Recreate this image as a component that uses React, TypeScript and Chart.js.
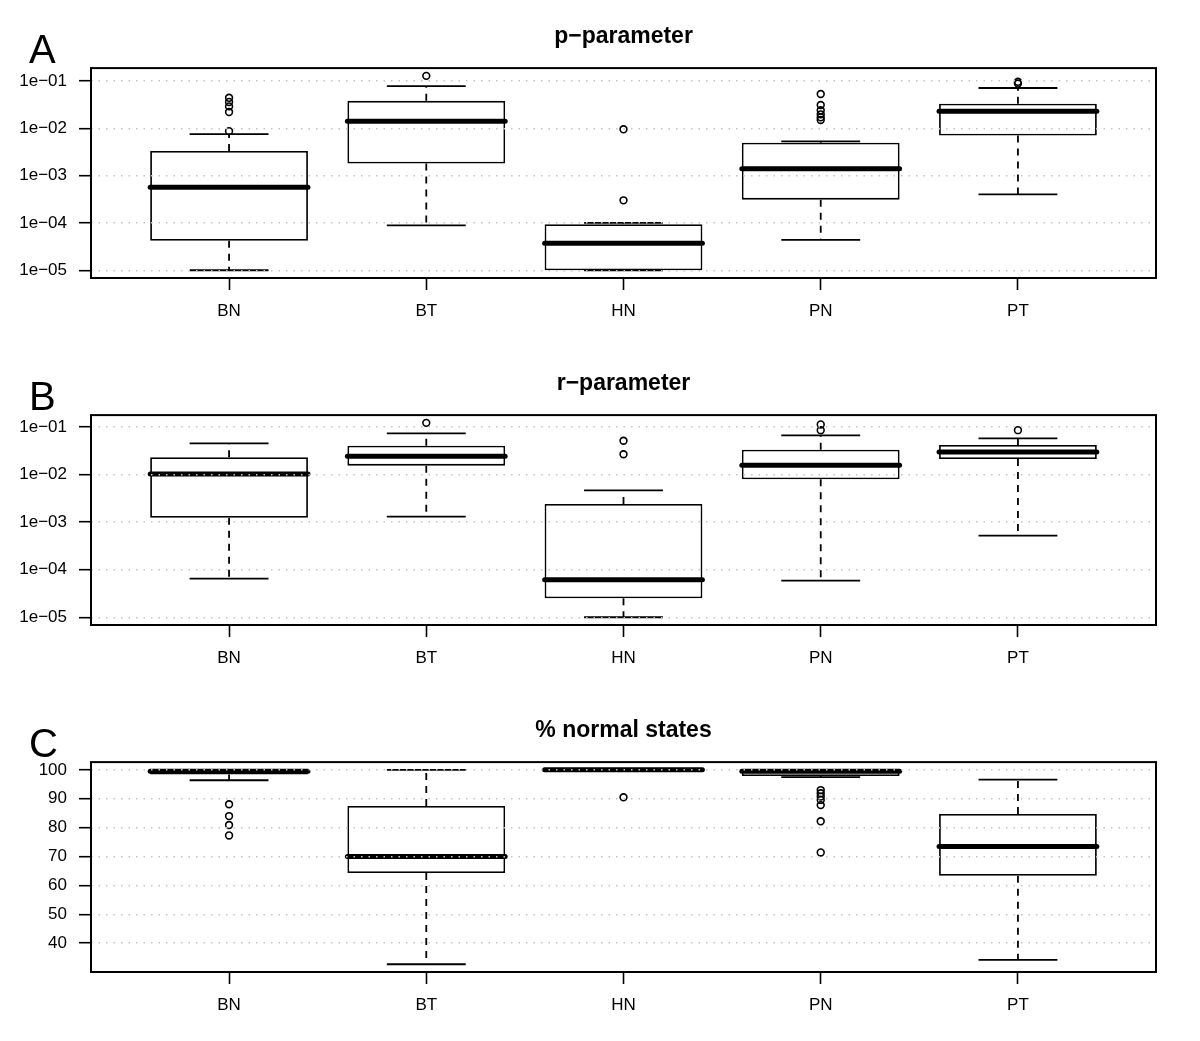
import React, { useEffect, useRef } from 'react';
import { Chart, registerables } from 'chart.js';

Chart.register(...registerables);

// ---------- data ----------
const CATEGORIES = ['BN', 'BT', 'HN', 'PN', 'PT'];

// Panel A: p-parameter (log scale)
const P_LOWER = [1.0e-5, 8.9e-5, 1.0e-5, 4.4e-5, 4.0e-4];
const P_Q1 = [4.2e-5, 1.8e-3, 1.0e-5, 3.1e-4, 7.0e-3];
const P_MEDIAN = [5.7e-4, 1.4e-2, 3.7e-5, 1.4e-3, 2.28e-2];
const P_Q3 = [3.3e-3, 3.8e-2, 9.4e-5, 4.96e-3, 3.3e-2];
const P_UPPER = [7.55e-3, 7.8e-2, 1.0e-4, 5.3e-3, 7.1e-2];
const P_OUTLIERS = [
  [8.7e-3, 2.2e-2, 2.9e-2, 3.6e-2, 4.4e-2],
  [0.128],
  [3.0e-4, 9.5e-3],
  [1.5e-2, 1.7e-2, 1.97e-2, 2.4e-2, 3.1e-2, 5.3e-2],
  [8.8e-2, 9.6e-2],
];

// Panel B: r-parameter (log scale)
const R_LOWER = [6.5e-5, 1.3e-3, 1.0e-5, 5.9e-5, 5.2e-4];
const R_Q1 = [1.23e-3, 1.53e-2, 2.5e-5, 7.9e-3, 2.1e-2];
const R_MEDIAN = [1.02e-2, 2.4e-2, 6.1e-5, 1.56e-2, 2.96e-2];
const R_Q3 = [2.3e-2, 4.0e-2, 2.4e-3, 3.3e-2, 4.17e-2];
const R_UPPER = [4.5e-2, 7.3e-2, 4.6e-3, 6.6e-2, 5.7e-2];
const R_OUTLIERS = [[], [0.121], [2.65e-2, 5.1e-2], [8.5e-2, 0.112], [8.5e-2]];

// Panel C: % normal states (linear scale)
const N_LOWER = [96.4, 32.7, 100, 97.5, 34.2];
const N_Q1 = [98.4, 64.3, 100, 97.9, 63.3];
const N_MEDIAN = [99.5, 70.0, 100, 99.5, 73.5];
const N_Q3 = [100, 87.5, 100, 99.9, 84.7];
const N_UPPER = [100, 100, 100, 100, 96.6];
const N_OUTLIERS = [
  [77.3, 80.9, 84.0, 88.1],
  [],
  [90.5],
  [71.4, 82.2, 87.8, 89.6, 90.75, 91.9, 93.0],
  [],
];

// tick values / labels
const LOG_TICK_VALUES = [1e-5, 1e-4, 1e-3, 1e-2, 1e-1];
const LOG_TICK_LABELS = ['1e\u221205', '1e\u221204', '1e\u221203', '1e\u221202', '1e\u221201'];
const PCT_TICK_VALUES = [40, 50, 60, 70, 80, 90, 100];
const PCT_TICK_LABELS = ['40', '50', '60', '70', '80', '90', '100'];

const TITLES = ['p\u2212parameter', 'r\u2212parameter', '% normal states'];
const LETTERS = ['A', 'B', 'C'];

// ---------- drawing ----------
const FONT = '"Liberation Sans", Arial, Helvetica, sans-serif';
const W = 1200;
const H = 347;

type Stats = {
  lower: number[];
  q1: number[];
  median: number[];
  q3: number[];
  upper: number[];
  outliers: number[][];
};

function makePlugin(stats: Stats, letter: string) {
  return {
    id: 'boxExtras' + letter,
    afterDatasetsDraw(chart: any) {
      const { ctx } = chart;
      const xs = chart.scales.x;
      const ys = chart.scales.y;
      ctx.save();
      ctx.strokeStyle = '#000';
      CATEGORIES.forEach((_, i) => {
        const c = i + 1;
        const xc = xs.getPixelForValue(c);
        const yl = ys.getPixelForValue(stats.lower[i]);
        const yq1 = ys.getPixelForValue(stats.q1[i]);
        const yq3 = ys.getPixelForValue(stats.q3[i]);
        const yu = ys.getPixelForValue(stats.upper[i]);
        const ym = ys.getPixelForValue(stats.median[i]);
        // dashed whiskers
        ctx.lineWidth = 1.8;
        ctx.setLineDash([7, 6]);
        ctx.lineCap = 'butt';
        ctx.beginPath();
        ctx.moveTo(xc, yq3);
        ctx.lineTo(xc, yu);
        ctx.moveTo(xc, yq1);
        ctx.lineTo(xc, yl);
        ctx.stroke();
        // caps
        ctx.setLineDash([]);
        const xc0 = xs.getPixelForValue(c - 0.2);
        const xc1 = xs.getPixelForValue(c + 0.2);
        ctx.beginPath();
        ctx.moveTo(xc0, yu);
        ctx.lineTo(xc1, yu);
        ctx.moveTo(xc0, yl);
        ctx.lineTo(xc1, yl);
        ctx.stroke();
        // median
        const xm0 = xs.getPixelForValue(c - 0.4);
        const xm1 = xs.getPixelForValue(c + 0.4);
        ctx.lineWidth = 5;
        ctx.lineCap = 'round';
        ctx.beginPath();
        ctx.moveTo(xm0, ym);
        ctx.lineTo(xm1, ym);
        ctx.stroke();
      });
      ctx.restore();
    },
    afterDraw(chart: any) {
      const { ctx, chartArea } = chart;
      ctx.save();
      ctx.strokeStyle = '#000';
      ctx.lineWidth = 2;
      ctx.setLineDash([]);
      ctx.strokeRect(chartArea.left, chartArea.top, chartArea.right - chartArea.left, chartArea.bottom - chartArea.top);
      ctx.fillStyle = '#000';
      ctx.font = '40px ' + FONT;
      ctx.textBaseline = 'alphabetic';
      ctx.textAlign = 'left';
      ctx.fillText(letter, 29, 63);
      ctx.restore();
    },
  };
}

function Panel(props: {
  title: string;
  letter: string;
  stats: Stats;
  log: boolean;
  tickValues: number[];
  tickLabels: string[];
}) {
  const ref = useRef<HTMLCanvasElement | null>(null);
  useEffect(() => {
    const { stats, log, tickValues, tickLabels, title, letter } = props;
    const all = [...stats.lower, ...stats.upper, ...stats.outliers.flat()];
    let yMin: number, yMax: number;
    if (log) {
      const lo = Math.log10(Math.min(...all));
      const hi = Math.log10(Math.max(...all));
      const ext = (hi - lo) * 0.04;
      yMin = Math.pow(10, lo - ext);
      yMax = Math.pow(10, hi + ext);
    } else {
      const lo = Math.min(...all);
      const hi = Math.max(...all);
      const ext = (hi - lo) * 0.04;
      yMin = lo - ext;
      yMax = hi + ext;
    }
    const n = CATEGORIES.length;
    const xExt = n * 0.04;

    const boxData = CATEGORIES.map((_, i) => ({ x: i + 1, y: [stats.q1[i], stats.q3[i]] }));
    const outData: { x: number; y: number }[] = [];
    stats.outliers.forEach((arr, i) => arr.forEach((v) => outData.push({ x: i + 1, y: v })));

    const chart = new Chart(ref.current as HTMLCanvasElement, {
      type: 'bar',
      data: {
        datasets: [
          {
            type: 'bar',
            data: boxData as any,
            backgroundColor: '#ffffff',
            borderColor: '#000000',
            borderWidth: 1.8,
            borderSkipped: false,
            categoryPercentage: 1,
            barPercentage: 0.8,
            order: 2,
          } as any,
          {
            type: 'scatter',
            data: outData as any,
            pointStyle: 'circle',
            pointRadius: 3.4,
            pointBorderWidth: 1.6,
            borderColor: '#000000',
            backgroundColor: 'rgba(0,0,0,0)',
            showLine: false,
            order: 1,
          } as any,
        ],
      },
      options: {
        responsive: false,
        animation: false,
        events: [],
        layout: { padding: { left: 0, right: 44, top: 0, bottom: 0 } },
        plugins: {
          legend: { display: false },
          tooltip: { enabled: false },
          title: {
            display: true,
            text: title,
            fullSize: false,
            color: '#000',
            font: { family: FONT, size: 23, weight: 'bold' },
            padding: { top: 22.5, bottom: 18 },
          },
        },
        scales: {
          x: {
            type: 'linear',
            offset: false,
            min: 0.5 - xExt,
            max: n + 0.5 + xExt,
            afterBuildTicks: (s: any) => {
              s.ticks = CATEGORIES.map((_, i) => ({ value: i + 1 }));
            },
            afterFit: (s: any) => {
              s.height = 69;
            },
            ticks: {
              autoSkip: false,
              maxRotation: 0,
              color: '#000',
              font: { family: FONT, size: 17 },
              padding: 11,
              callback: (v: any) => CATEGORIES[Math.round(Number(v)) - 1],
            },
            grid: {
              offset: false,
              drawOnChartArea: false,
              drawTicks: true,
              tickLength: 12,
              tickColor: '#000',
              tickWidth: 1.6,
            },
            border: { display: false },
          },
          y: {
            type: log ? 'logarithmic' : 'linear',
            min: yMin,
            max: yMax,
            afterBuildTicks: (s: any) => {
              s.ticks = tickValues.map((v) => ({ value: v }));
            },
            afterFit: (s: any) => {
              s.width = 91;
            },
            ticks: {
              autoSkip: false,
              color: '#000',
              font: { family: FONT, size: 17 },
              padding: 12,
              callback: (_v: any, idx: number) => tickLabels[idx],
            },
            grid: {
              z: 1,
              color: '#c4c4c4',
              lineWidth: 1.4,
              drawTicks: true,
              tickLength: 12,
              tickColor: '#000',
              tickWidth: 1.6,
              tickBorderDash: [],
            },
            border: { display: false, dash: [1.5, 6] },
          },
        },
      } as any,
      plugins: [makePlugin(stats, letter)],
    });
    return () => chart.destroy();
  }, []);
  return (
    <canvas
      ref={ref}
      width={W}
      height={H}
      style={{ display: 'block', width: W, height: H }}
    />
  );
}

export default function App() {
  const panels = [
    {
      stats: { lower: P_LOWER, q1: P_Q1, median: P_MEDIAN, q3: P_Q3, upper: P_UPPER, outliers: P_OUTLIERS },
      log: true,
      tickValues: LOG_TICK_VALUES,
      tickLabels: LOG_TICK_LABELS,
    },
    {
      stats: { lower: R_LOWER, q1: R_Q1, median: R_MEDIAN, q3: R_Q3, upper: R_UPPER, outliers: R_OUTLIERS },
      log: true,
      tickValues: LOG_TICK_VALUES,
      tickLabels: LOG_TICK_LABELS,
    },
    {
      stats: { lower: N_LOWER, q1: N_Q1, median: N_MEDIAN, q3: N_Q3, upper: N_UPPER, outliers: N_OUTLIERS },
      log: false,
      tickValues: PCT_TICK_VALUES,
      tickLabels: PCT_TICK_LABELS,
    },
  ];
  return (
    <div style={{ position: 'absolute', left: 0, top: 0, width: W, height: H * 3, background: '#fff' }}>
      {panels.map((p, i) => (
        <Panel
          key={i}
          title={TITLES[i]}
          letter={LETTERS[i]}
          stats={p.stats}
          log={p.log}
          tickValues={p.tickValues}
          tickLabels={p.tickLabels}
        />
      ))}
    </div>
  );
}
